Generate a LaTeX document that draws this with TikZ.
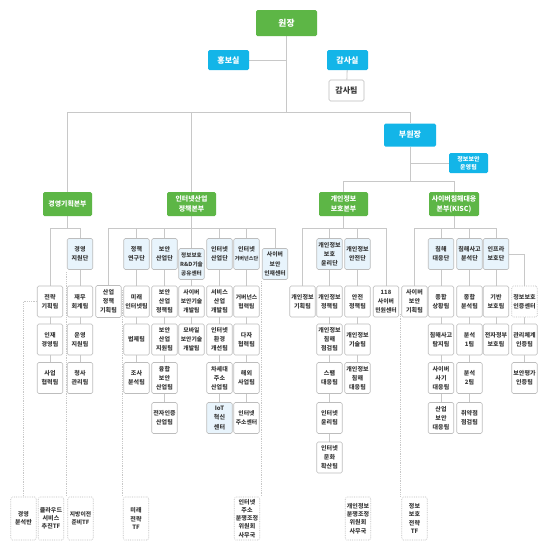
\documentclass[tikz,border=0pt]{standalone}
\usepackage{fontspec}
\setmainfont{Noto Sans CJK KR}
\usetikzlibrary{backgrounds}
\definecolor{grnc}{HTML}{5DB646}
\definecolor{cync}{HTML}{13B5E8}
\definecolor{danc}{HTML}{E8F4FC}
\definecolor{linec}{HTML}{C8C8C8}
\definecolor{bordc}{HTML}{BDBDBD}
\definecolor{txtc}{HTML}{3A3A3A}
\tikzset{
 ln/.style={draw=linec, line width=0.8pt},
 dl/.style={draw=linec, line width=0.7pt, dash pattern=on 0.8pt off 1pt},
 bx/.style={draw=bordc, fill=white, rounded corners=1.5pt, line width=0.6pt, minimum width=25.5pt, minimum height=31pt, inner sep=0pt, align=center, text=txtc, font=\bfseries\fontsize{6}{9.2}\selectfont},
 dan/.style={bx, fill=danc},
 tfb/.style={bx, dash pattern=on 0.8pt off 1pt, minimum height=43pt, font=\bfseries\fontsize{6}{8.2}\selectfont},
 grn/.style={fill=grnc, text=white, rounded corners=1.5pt, inner sep=0pt, align=center, font=\bfseries\fontsize{6.9}{10}\selectfont, minimum width=49pt, minimum height=24pt},
 cyn/.style={grn, fill=cync},
}
\begin{document}
\begin{tikzpicture}[x=1pt,y=-1pt]
\useasboundingbox (0,0) rectangle (550,550);
% top
\node[grn, minimum width=61pt, minimum height=26pt, font=\bfseries\fontsize{8.7}{10}\selectfont] (wj) at (286.5,23) {원장};
\node[cyn, minimum width=41pt, minimum height=20pt, font=\bfseries\fontsize{8}{9}\selectfont] (hong) at (228.5,60) {홍보실};
\node[cyn, minimum width=41pt, minimum height=20pt, font=\bfseries\fontsize{8}{9}\selectfont] (gss) at (347.5,60) {감사실};
\node[bx, minimum width=35pt, minimum height=21pt, font=\bfseries\fontsize{8}{9}\selectfont] (gst) at (346.5,90.5) {감사팀};
\node[cyn, minimum width=52pt, minimum height=23pt, font=\bfseries\fontsize{8}{9}\selectfont] (bw) at (410,135) {부원장};
\node[cyn, minimum width=39pt, minimum height=20pt, font=\bfseries\fontsize{6}{7.8}\selectfont] (ops) at (468.5,163) {정보보안\\운영팀};
% headquarters
\node[grn] (h1) at (67.5,204) {경영기획본부};
\node[grn] (h2) at (191.5,204) {인터넷산업\\정책본부};
\node[grn] (h3) at (343.5,204) {개인정보\\보호본부};
\node[grn, minimum width=50pt] (h4) at (454,204) {사이버침해대응\\본부(KISC)};
% management
\node[bx] (a1) at (50,301.5) {전략\\기획팀};
\node[bx] (a2) at (50,339.5) {인재\\경영팀};
\node[bx] (a3) at (50,378) {사업\\협력팀};
\node[dan] (b0) at (80,254) {경영\\지원단};
\node[bx] (b1) at (80,301.5) {재무\\회계팀};
\node[bx] (b2) at (80,339.5) {운영\\지원팀};
\node[bx] (b3) at (80,378) {청사\\관리팀};
% internet industry
\node[bx, minimum height=32pt] (c1) at (108.5,301.5) {산업\\정책\\기획팀};
\node[dan] (d0) at (136.5,254) {정책\\연구단};
\node[bx] (d1) at (136.5,301.5) {미래\\인터넷팀};
\node[bx] (d2) at (136.5,339.5) {법제팀};
\node[bx] (d3) at (136.5,378) {조사\\분석팀};
\node[dan] (e0) at (164.5,254) {보안\\산업단};
\node[bx] (e1) at (164.5,301.5) {보안\\산업\\정책팀};
\node[bx] (e2) at (164.5,339.5) {보안\\산업\\지원팀};
\node[bx] (e3) at (164.5,378) {융합\\보안\\산업팀};
\node[bx] (e4) at (164.5,418) {전자인증\\산업팀};
\node[dan, font=\bfseries\fontsize{5.6}{9}\selectfont] (f0) at (191.5,264) {정보보호\\R\&D기술\\공유센터};
\node[bx, font=\bfseries\fontsize{5.8}{9.2}\selectfont] (f1) at (191.5,301.5) {사이버\\보안기술\\개발팀};
\node[bx, font=\bfseries\fontsize{5.8}{9.2}\selectfont] (f2) at (191.5,339.5) {모바일\\보안기술\\개발팀};
\node[dan] (g0) at (219.5,254) {인터넷\\산업단};
\node[bx] (g1) at (219.5,301.5) {서비스\\산업\\개발팀};
\node[bx] (g2) at (219.5,339.5) {인터넷\\환경\\개선팀};
\node[bx] (g3) at (219.5,378) {차세대\\주소\\산업팀};
\node[dan] (g4) at (219.5,418) {IoT\\혁신\\센터};
\node[dan, font=\bfseries\fontsize{5.1}{9.2}\selectfont] (k00) at (246.5,254) {\fontsize{6}{9.2}\selectfont 인터넷\\거버넌스단};
\node[bx, font=\bfseries\fontsize{5.8}{9.2}\selectfont] (k01) at (246.5,301.5) {거버넌스\\협력팀};
\node[bx] (k02) at (246.5,339.5) {다자\\협력팀};
\node[bx] (k03) at (246.5,378) {해외\\사업팀};
\node[bx, font=\bfseries\fontsize{5.8}{9.2}\selectfont] (k04) at (246.5,418) {인터넷\\주소센터};
\node[dan, font=\bfseries\fontsize{5.8}{9.2}\selectfont] (i0) at (275,264) {사이버\\보안\\인재센터};
% privacy
\node[bx] (j1) at (302.5,301.5) {개인정보\\기획팀};
\node[dan] (k0) at (329.5,254) {개인정보\\보호\\윤리단};
\node[bx] (k1) at (329.5,301.5) {개인정보\\정책팀};
\node[bx] (k2) at (329.5,339.5) {개인정보\\침해\\점검팀};
\node[bx] (k3) at (329.5,378) {스팸\\대응팀};
\node[bx] (k4) at (329.5,418) {인터넷\\윤리팀};
\node[bx] (k5) at (329.5,457.5) {인터넷\\문화\\확산팀};
\node[dan] (l0) at (357.5,254) {개인정보\\안전단};
\node[bx] (l1) at (357.5,301.5) {안전\\정책팀};
\node[bx] (l2) at (357.5,339.5) {개인정보\\기술팀};
\node[bx] (l3) at (357.5,378) {개인정보\\침해\\대응팀};
\node[bx, font=\bfseries\fontsize{5.8}{9.2}\selectfont] (m1) at (386,301.5) {118\\사이버\\민원센터};
% KISC
\node[bx] (n1) at (414.5,301.5) {사이버\\보안\\기획팀};
\node[dan] (o0) at (441,254) {침해\\대응단};
\node[bx] (o1) at (441,301.5) {종합\\상황팀};
\node[bx] (o2) at (441,339.5) {침해사고\\탐지팀};
\node[bx] (o3) at (441,378) {사이버\\사기\\대응팀};
\node[bx] (o4) at (441,418) {산업\\보안\\대응팀};
\node[dan] (p0) at (469.5,254) {침해사고\\분석단};
\node[bx] (p1) at (469.5,301.5) {종합\\분석팀};
\node[bx] (p2) at (469.5,339.5) {분석\\1팀};
\node[bx] (p3) at (469.5,378) {분석\\2팀};
\node[bx] (p4) at (469.5,418) {취약점\\점검팀};
\node[dan] (q0) at (496,254) {인프라\\보호단};
\node[bx] (q1) at (496,301.5) {기반\\보호팀};
\node[bx] (q2) at (496,339.5) {전자정부\\보호팀};
\node[bx, dash pattern=on 0.8pt off 1pt] (r1) at (524.5,301.5) {정보보호\\인증센터};
\node[bx] (r2) at (524.5,339.5) {관리체계\\인증팀};
\node[bx] (r3) at (524.5,378) {보안평가\\인증팀};
% TF boxes
\node[tfb] (t1) at (23.5,518.5) {경영\\분석반};
\node[tfb] (t2) at (51,518.5) {클라우드\\서비스\\추진TF};
\node[tfb, font=\bfseries\fontsize{5.8}{8.2}\selectfont] (t3) at (80.5,518.5) {지방이전\\준비TF};
\node[tfb] (t4) at (136,518.5) {미래\\전략\\TF};
\node[tfb] (t5) at (247,518.5) {인터넷\\주소\\분쟁조정\\위원회\\사무국};
\node[tfb] (t6) at (358,518.5) {개인정보\\분쟁조정\\위원회\\사무국};
\node[tfb] (t7) at (414.5,518.5) {정보\\보호\\전략\\TF};
\coordinate (dA) at (66,272);
\coordinate (dB) at (122.5,290);
\coordinate (dC) at (261.5,281);
\coordinate (dD) at (400,314);
\begin{scope}[on background layer]
\fill[white] (0,0) rectangle (550,550);
\draw[ln] (wj.south) -- ++(0,76) -| (h1.north);
\draw[ln] (wj.south) -- ++(0,76) -| (h2.north);
\draw[ln] (wj.south) -- ++(0,76) -| (bw.north);
\draw[ln] (hong.east) -- (hong.east -| wj.south);
\draw[ln] (gss) -- (gst);
\draw[ln] (bw.south) -- ++(0,34.5) -| (h3.north);
\draw[ln] (bw.south) -- ++(0,34.5) -| (h4.north);
\draw[ln] (bw.south) |- (ops.west);
\foreach \c in {a1,b0} \draw[ln] (h1.south) -- ++(0,12) -| (\c.north);
\foreach \c in {c1,d0,e0,f0,g0,k00,i0} \draw[ln] (h2.south) -- ++(0,12) -| (\c.north);
\foreach \c in {j1,k0,l0,m1} \draw[ln] (h3.south) -- ++(0,12) -| (\c.north);
\foreach \c in {n1,o0,p0,q0} \draw[ln] (h4.south) -- ++(0,12) -| (\c.north);
\draw[ln] (q0.east) -| (r1.north);
\draw[ln] (a1) -- (a3);
\draw[ln] (b0) -- (b3);
\draw[ln] (d0) -- (d3);
\draw[ln] (e0) -- (e4);
\draw[ln] (f0) -- (f2);
\draw[ln] (g0) -- (g4);
\draw[ln] (k00) -- (k04);
\draw[ln] (k0) -- (k5);
\draw[ln] (l0) -- (l3);
\draw[ln] (o0) -- (o4);
\draw[ln] (p0) -- (p4);
\draw[ln] (q0) -- (q2);
\draw[ln] (r1) -- (r3);
\draw[dl] (a1.west) -| (t1.north);
\draw[dl] (dA) -- (dA |- t3.north);
\draw[dl] (dB) -- (dB |- t4.north);
\draw[dl] (dC) -- (dC |- t5.north);
\draw[dl] (dD) -- (dD |- t7.north);
\end{scope}
\end{tikzpicture}
\end{document}
